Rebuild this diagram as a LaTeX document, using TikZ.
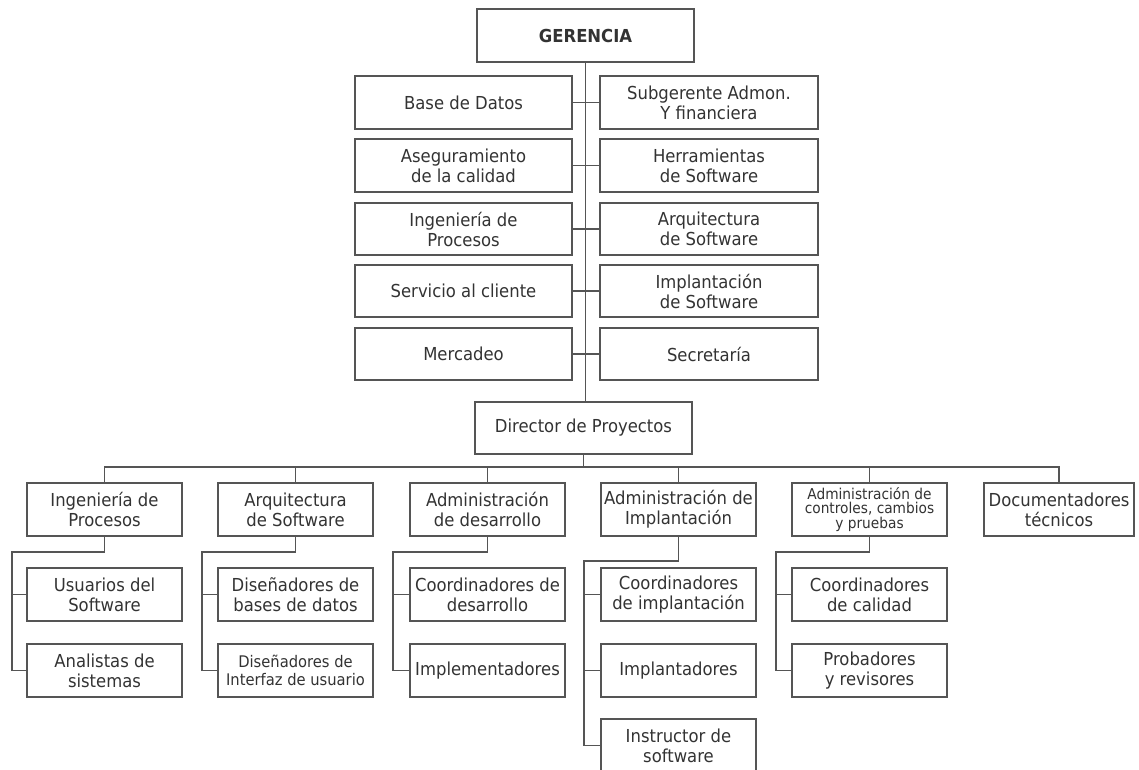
\documentclass[tikz,border=0pt]{standalone}
\usepackage{fontspec}
\setmainfont{DejaVu Sans}[FakeStretch=0.92]
\definecolor{linegray}{HTML}{555555}
\definecolor{textgray}{HTML}{333333}
\begin{document}
\begin{tikzpicture}[x=0.75pt,y=-0.75pt,
  line/.style={draw=linegray, line width=1.4pt},
  box/.style={draw=linegray, line width=1.4pt, fill=white, align=center,
    text=textgray, inner sep=0pt, font=\fontsize{13.4}{15}\selectfont},
  topbox/.style={box, minimum width=163pt, minimum height=39.5pt},
  orgbox/.style={box, minimum width=116.25pt, minimum height=39.5pt},
  smalltext/.style={font=\fontsize{12}{14}\selectfont},
  tinytext/.style={font=\fontsize{11.2}{10.8}\selectfont}]
\useasboundingbox (0,0) rectangle (1139,769);
\clip (0,0) rectangle (1139,769);

% upper management
\node[topbox] (ger) at (585.5,35.5) {\bfseries GERENCIA};
\node[topbox] (bd)  at (463.5,102.5) {Base de Datos};
\node[topbox] (sa)  at (709,102.5) {Subgerente Admon.\\Y financiera};
\node[topbox] (aq)  at (463.5,165.5) {Aseguramiento\\de la calidad};
\node[topbox] (hs)  at (709,165.5) {Herramientas\\de Software};
\node[topbox] (ipr) at (463.5,229) {Ingeniería de\\Procesos};
\node[topbox] (asw) at (709,229) {Arquitectura\\de Software};
\node[topbox] (sc)  at (463.5,291) {Servicio al cliente};
\node[topbox] (isw) at (709,291) {Implantación\\de Software};
\node[topbox] (mer) at (463.5,354) {Mercadeo};
\node[topbox] (sec) at (709,354) {Secretaría};
\node[topbox] (dir) at (583.5,428) {Director de Proyectos};

% spine and side branches
\draw[line] (ger.south) -- (ger.south |- dir.north);
\foreach \l/\r in {bd/sa, aq/hs, ipr/asw, sc/isw, mer/sec}
  \draw[line] (\l.east) -- (\r.west);

% project areas
\coordinate (bus) at (104.5,467);
\node[orgbox] (ip) at (104.5,509.5) {Ingeniería de\\Procesos};
\node[orgbox] (as) at (295.5,509.5) {Arquitectura\\de Software};
\node[orgbox] (ad) at (487.5,509.5) {Administración\\de desarrollo};
\node[orgbox] (ai) at (678.5,509.5) {Administración de\\Implantación};
\node[orgbox, tinytext] (ac) at (869.5,509.5) {Administración de\\controles, cambios\\y pruebas};
\node[orgbox, minimum width=113pt] (dt) at (1059,509.5) {Documentadores\\técnicos};

\draw[line] (dir.south) -- (dir.south |- bus);
\draw[line] (ip.north) -- (ip.north |- bus) -- (dt.north |- bus) -- (dt.north);
\foreach \n in {as, ad, ai, ac}
  \draw[line] (\n.north) -- (\n.north |- bus);

% teams
\node[orgbox] (ip1) at (104.5,594.5) {Usuarios del\\Software};
\node[orgbox] (ip2) at (104.5,670.5) {Analistas de\\sistemas};
\node[orgbox] (as1) at (295.5,594.5) {Diseñadores de\\bases de datos};
\node[orgbox, smalltext] (as2) at (295.5,670.5) {Diseñadores de\\Interfaz de usuario};
\node[orgbox] (ad1) at (487.5,594.5) {Coordinadores de\\desarrollo};
\node[orgbox] (ad2) at (487.5,670.5) {Implementadores};
\node[orgbox] (ai1) at (678.5,594.5) {Coordinadores\\de implantación};
\node[orgbox] (ai2) at (678.5,670.5) {Implantadores};
\node[orgbox] (ai3) at (678.5,745.5) {Instructor de\\software};
\node[orgbox] (ac1) at (869.5,594.5) {Coordinadores\\de calidad};
\node[orgbox] (ac2) at (869.5,670.5) {Probadores\\y revisores};

% team connectors
\coordinate (ipk) at (12,552);
\coordinate (ask) at (202,552);
\coordinate (adk) at (393,552);
\coordinate (aik) at (584,561);
\coordinate (ack) at (776,552);

\draw[line] (ip.south) |- (ipk) |- (ip2.west);
\draw[line] (ipk |- ip1.west) -- (ip1.west);
\draw[line] (as.south) |- (ask) |- (as2.west);
\draw[line] (ask |- as1.west) -- (as1.west);
\draw[line] (ad.south) |- (adk) |- (ad2.west);
\draw[line] (adk |- ad1.west) -- (ad1.west);
\draw[line] (ai.south) |- (aik) |- (ai3.west);
\draw[line] (aik |- ai1.west) -- (ai1.west);
\draw[line] (aik |- ai2.west) -- (ai2.west);
\draw[line] (ac.south) |- (ack) |- (ac2.west);
\draw[line] (ack |- ac1.west) -- (ac1.west);
\end{tikzpicture}
\end{document}
